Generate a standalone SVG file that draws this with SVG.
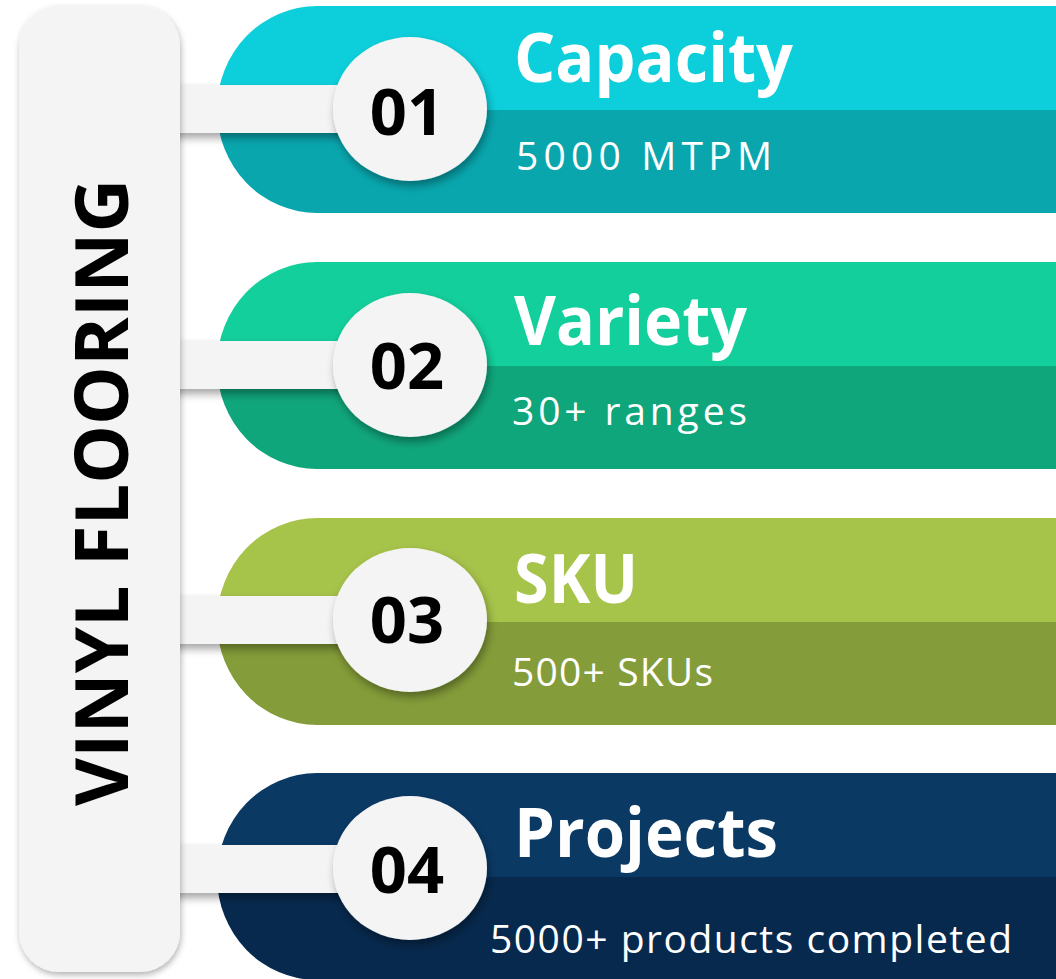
<svg xmlns="http://www.w3.org/2000/svg" width="1056" height="979" viewBox="0 0 1056 979">
<defs>
<filter id="sh" x="-20%" y="-20%" width="140%" height="150%">
<feDropShadow dx="2" dy="5" stdDeviation="4" flood-color="#000" flood-opacity="0.35"/>
</filter>
<filter id="shbar" x="-20%" y="-5%" width="140%" height="110%">
<feDropShadow dx="1" dy="3" stdDeviation="3" flood-color="#000" flood-opacity="0.3"/>
</filter>
<clipPath id="band" clipPathUnits="userSpaceOnUse">
<path d="M1056,0 H317 A100,103.5 0 0 0 317,207 H1056 Z"/>
</clipPath>
<style>
.title{font-family:"Open Sans","Liberation Sans",sans-serif;font-weight:700;font-size:68px;fill:#fff}
.sub{font-family:"Open Sans","Liberation Sans",sans-serif;font-weight:400;font-size:39px;fill:#fff}
.num{font-family:"Open Sans","Liberation Sans",sans-serif;font-weight:700;font-size:65px;fill:#000;text-anchor:middle}
.lab{font-family:"Open Sans","Liberation Sans",sans-serif;font-weight:700;font-size:74px;fill:#000;text-anchor:middle}
.pale{fill:#f4f4f4}
</style>
</defs>
<rect width="1056" height="979" fill="#fff"/>

<g id="bands">
<g id="band1" transform="translate(0,6)">
<g clip-path="url(#band)"><rect x="0" y="0" width="1056" height="104" fill="#0dcfdb"/><rect x="0" y="104" width="1056" height="103" fill="#09a6ae"/></g>
<text class="title" x="514" y="76" textLength="279" lengthAdjust="spacingAndGlyphs">Capacity</text>
<text class="sub" x="516" y="164" textLength="256" lengthAdjust="spacing">5000 MTPM</text>
</g>
<g id="band2" transform="translate(0,262)">
<g clip-path="url(#band)"><rect x="0" y="0" width="1056" height="104" fill="#13cf9b"/><rect x="0" y="104" width="1056" height="103" fill="#10a67c"/></g>
<text class="title" x="514" y="83" textLength="233" lengthAdjust="spacingAndGlyphs">Variety</text>
<text class="sub" x="512" y="163" textLength="235" lengthAdjust="spacing">30+ ranges</text>
</g>
<g id="band3" transform="translate(0,518)">
<g clip-path="url(#band)"><rect x="0" y="0" width="1056" height="104" fill="#a6c34a"/><rect x="0" y="104" width="1056" height="103" fill="#849c39"/></g>
<text class="title" x="514" y="85" textLength="124" lengthAdjust="spacingAndGlyphs">SKU</text>
<text class="sub" x="512" y="168" textLength="201" lengthAdjust="spacing">500+ SKUs</text>
</g>
<g id="band4" transform="translate(0,773)">
<g clip-path="url(#band)"><rect x="0" y="0" width="1056" height="104" fill="#0a3964"/><rect x="0" y="104" width="1056" height="103" fill="#07294d"/></g>
<text class="title" x="514" y="84" textLength="264" lengthAdjust="spacingAndGlyphs">Projects</text>
<text class="sub" x="490" y="180" textLength="522" lengthAdjust="spacing">5000+ products completed</text>
</g>
</g>

<g id="connectors">
<rect class="pale" x="150" y="85" width="246" height="48" filter="url(#sh)"/>
<rect class="pale" x="150" y="341" width="246" height="48" filter="url(#sh)"/>
<rect class="pale" x="150" y="596" width="246" height="48" filter="url(#sh)"/>
<rect class="pale" x="150" y="845" width="246" height="48" filter="url(#sh)"/>
</g>

<g id="main">
<rect class="pale" x="19" y="6" width="161" height="966" rx="40" filter="url(#shbar)"/>
<text class="lab" transform="translate(128,492.5) rotate(-90)" x="0" y="0" textLength="627" lengthAdjust="spacingAndGlyphs">VINYL FLOORING</text>
</g>

<g id="n01"><ellipse class="pale" cx="410" cy="109" rx="77" ry="72" filter="url(#sh)"/><text class="num" x="407" y="135">01</text></g>
<g id="n02"><ellipse class="pale" cx="410" cy="365" rx="77" ry="72" filter="url(#sh)"/><text class="num" x="407" y="389">02</text></g>
<g id="n03"><ellipse class="pale" cx="410" cy="620" rx="77" ry="72" filter="url(#sh)"/><text class="num" x="407" y="643">03</text></g>
<g id="n04"><ellipse class="pale" cx="410" cy="868" rx="77" ry="72" filter="url(#sh)"/><text class="num" x="407" y="893">04</text></g>
</svg>
